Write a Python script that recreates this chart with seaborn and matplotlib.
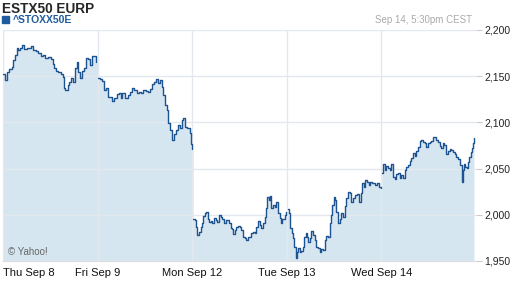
import numpy as np
import matplotlib.pyplot as plt
import pandas as pd
import seaborn as sns

# trading-day position (0 = Thu Sep 8 open, 5 = Wed Sep 14 close) and index level
thu_t = [0.000, 0.021, 0.045, 0.067, 0.092, 0.109, 0.127, 0.145, 0.162, 0.180, 0.201, 0.222,
         0.250, 0.278, 0.299, 0.320, 0.348, 0.373, 0.398, 0.426, 0.447, 0.478, 0.504, 0.525,
         0.539, 0.560, 0.584, 0.609, 0.630, 0.644, 0.658, 0.683, 0.700, 0.721, 0.742, 0.760,
         0.778, 0.795, 0.813, 0.834, 0.855, 0.876, 0.901, 0.919, 0.937, 0.961, 0.982]
thu_p = [2152.1, 2145.9, 2154.9, 2157.8, 2160.3, 2167.5, 2172.9, 2180.2, 2178.4, 2180.8, 2183.8, 2179.4,
         2180.8, 2180.2, 2182.7, 2178.4, 2177.6, 2174.8, 2172.2, 2172.9, 2170.0, 2171.1, 2168.6, 2162.9,
         2158.5, 2155.6, 2154.9, 2152.1, 2149.5, 2136.9, 2135.1, 2140.5, 2144.0, 2147.7, 2144.0, 2158.5,
         2165.7, 2154.9, 2147.7, 2155.6, 2158.5, 2170.0, 2168.6, 2162.1, 2172.2, 2172.2, 2165.7]

fri_t = [1.006, 1.024, 1.049, 1.070, 1.088, 1.106, 1.130, 1.154, 1.175, 1.201, 1.225, 1.246,
         1.260, 1.288, 1.317, 1.341, 1.359, 1.387, 1.412, 1.436, 1.457, 1.482, 1.507, 1.534,
         1.555, 1.577, 1.598, 1.619, 1.640, 1.661, 1.676, 1.693, 1.711, 1.729, 1.746, 1.763,
         1.788, 1.809, 1.834, 1.851, 1.872, 1.893, 1.908, 1.922, 1.950, 1.972, 1.985, 1.993]
fri_p = [2147.7, 2146.6, 2144.8, 2135.1, 2136.9, 2127.8, 2127.8, 2123.2, 2126.7, 2130.4, 2131.5, 2126.1,
         2131.5, 2126.7, 2129.7, 2133.2, 2137.6, 2135.1, 2131.5, 2133.2, 2131.5, 2135.1, 2134.0, 2133.2,
         2136.1, 2141.2, 2144.0, 2146.6, 2142.3, 2145.9, 2138.6, 2129.7, 2118.8, 2113.4, 2099.0, 2091.8,
         2080.9, 2087.1, 2091.8, 2097.2, 2093.6, 2102.6, 2105.1, 2095.3, 2093.6, 2088.2, 2076.3, 2071.2]

mon_t = [2.010, 2.027, 2.045, 2.056, 2.070, 2.091, 2.105, 2.119, 2.133, 2.147, 2.162, 2.178,
         2.196, 2.210, 2.231, 2.249, 2.267, 2.284, 2.302, 2.320, 2.337, 2.358, 2.379, 2.394,
         2.408, 2.421, 2.436, 2.450, 2.468, 2.485, 2.503, 2.521, 2.538, 2.555, 2.573, 2.590,
         2.608, 2.626, 2.643, 2.661, 2.679, 2.696, 2.714, 2.732, 2.749, 2.767, 2.780, 2.795,
         2.809, 2.823, 2.837, 2.854, 2.872, 2.890, 2.907, 2.925, 2.936, 2.954, 2.978, 2.996]
mon_p = [1995.1, 1994.4, 1987.1, 1978.1, 1981.7, 1987.1, 1990.8, 1998.7, 2001.6, 2003.3, 1995.1, 1992.5,
         1993.6, 1990.8, 1996.2, 1994.4, 1992.5, 1999.8, 1997.3, 1995.1, 1991.4, 1994.4, 1994.4, 1990.8,
         1985.4, 1984.3, 1979.2, 1983.5, 1986.5, 1987.9, 1986.5, 1983.5, 1976.3, 1974.6, 1972.7, 1975.6,
         1975.6, 1980.0, 1981.7, 1980.6, 1986.5, 1993.6, 1989.0, 1985.4, 1990.8, 1997.9, 2007.0, 2019.6,
         2016.0, 2020.3, 2007.0, 2010.6, 2008.8, 2014.2, 2001.6, 1996.2, 1990.8, 1995.1, 1999.8, 2003.3]

tue_t = [3.013, 3.023, 3.038, 3.052, 3.066, 3.080, 3.094, 3.108, 3.123, 3.136, 3.154, 3.171,
         3.186, 3.200, 3.213, 3.228, 3.242, 3.260, 3.277, 3.295, 3.313, 3.329, 3.347, 3.365,
         3.382, 3.400, 3.418, 3.435, 3.453, 3.471, 3.482, 3.495, 3.509, 3.524, 3.541, 3.559,
         3.577, 3.594, 3.611, 3.629, 3.646, 3.664, 3.682, 3.699, 3.717, 3.741, 3.762, 3.780,
         3.798, 3.812, 3.826, 3.847, 3.868, 3.883, 3.904, 3.928, 3.952, 3.974, 3.999]
tue_p = [2005.9, 2001.6, 1985.4, 1980.0, 1974.6, 1965.5, 1952.9, 1960.1, 1963.7, 1960.1, 1961.1, 1965.5,
         1976.3, 1980.6, 1976.3, 1970.9, 1974.6, 1982.8, 1978.1, 1972.7, 1965.5, 1963.7, 1960.1, 1962.7,
         1961.9, 1972.7, 1977.0, 1976.3, 1990.8, 1999.8, 2010.6, 2019.6, 2016.0, 2003.3, 1991.4, 1995.1,
         2001.6, 1997.3, 2009.5, 2017.8, 2025.0, 2023.3, 2014.2, 2017.8, 2021.4, 2022.5, 2014.2, 2023.3,
         2034.1, 2030.4, 2037.7, 2035.8, 2032.2, 2035.8, 2034.1, 2032.2, 2034.7, 2030.4, 2029.3]

wed_t = [4.005, 4.016, 4.034, 4.052, 4.069, 4.087, 4.105, 4.121, 4.139, 4.157, 4.174, 4.192,
         4.210, 4.231, 4.245, 4.263, 4.280, 4.298, 4.316, 4.333, 4.351, 4.369, 4.386, 4.403,
         4.421, 4.438, 4.456, 4.474, 4.491, 4.509, 4.527, 4.544, 4.562, 4.580, 4.597, 4.615,
         4.633, 4.650, 4.667, 4.685, 4.702, 4.720, 4.738, 4.755, 4.773, 4.791, 4.808, 4.826,
         4.836, 4.850, 4.861, 4.871, 4.886, 4.900, 4.914, 4.929, 4.943, 4.957, 4.971, 4.978]
wed_p = [2044.9, 2054.6, 2048.5, 2053.1, 2050.3, 2048.5, 2054.6, 2041.2, 2038.7, 2043.8, 2044.9, 2039.5,
         2043.1, 2040.1, 2048.5, 2052.1, 2053.9, 2058.2, 2061.1, 2066.6, 2064.0, 2069.0, 2073.7, 2079.9,
         2080.9, 2079.1, 2077.4, 2073.7, 2077.4, 2079.1, 2079.9, 2084.5, 2084.5, 2080.9, 2079.1, 2074.8,
         2072.0, 2077.4, 2075.5, 2065.5, 2069.0, 2071.2, 2070.1, 2068.3, 2065.5, 2062.9, 2060.4, 2058.2,
         2053.9, 2035.8, 2048.5, 2054.6, 2052.1, 2051.0, 2057.5, 2062.9, 2067.6, 2072.0, 2077.4, 2082.8]

day_labels = ["Thu Sep 8", "Fri Sep 9", "Mon Sep 12", "Tue Sep 13", "Wed Sep 14"]
y_ticks = [1950, 2000, 2050, 2100, 2150, 2200]

days = [(thu_t, thu_p), (fri_t, fri_p), (mon_t, mon_p), (tue_t, tue_p), (wed_t, wed_p)]
df = pd.concat([pd.DataFrame({"t": t, "price": p, "day": i}) for i, (t, p) in enumerate(days)],
               ignore_index=True)

line_col = "#1d5390"
fill_col = "#d6e6f1"
grid_col = "#e3e8ef"

sns.set_style("white")
plt.rcParams["font.family"] = ["Liberation Sans", "DejaVu Sans"]

fig = plt.figure(figsize=(5.12, 2.88), dpi=100)
ax = fig.add_axes([3 / 512, 27 / 288, 473 / 512, 231 / 288])

ax.fill_between(df["t"], df["price"], 1950, step="post", color=fill_col, lw=0, zorder=1)
sns.lineplot(data=df, x="t", y="price", units="day", estimator=None, color=line_col,
             lw=1.0, ax=ax, zorder=3, legend=False, drawstyle="steps-post")

ax.set_xlim(0, 5)
ax.set_ylim(1950, 2200)
ax.set_xticks(range(5))
ax.set_xticklabels(day_labels, fontsize=8, color="#111111")
ax.get_xticklabels()[0].set_horizontalalignment("left")
ax.set_yticks(y_ticks)
ax.set_yticklabels([f"{v:,}" for v in y_ticks], fontsize=7.5, color="#222222")
ax.yaxis.tick_right()
ax.tick_params(axis="x", length=3, color="#cccccc", pad=2)
ax.tick_params(axis="y", length=4, color="#cccccc", pad=2)
ax.grid(True, color=grid_col, lw=1, zorder=2)
ax.set_axisbelow(False)
for s in ["top", "right"]:
    ax.spines[s].set_visible(False)
ax.spines["left"].set_color("#dddddd")
ax.spines["bottom"].set_color("#dddddd")
ax.set_xlabel("")
ax.set_ylabel("")

fig.text(2 / 512, 1 - 9 / 288, "ESTX50 EURP", fontsize=9.8, fontweight="bold", va="center", ha="left")
fig.patches.append(plt.Rectangle((2 / 512, 1 - 23 / 288), 7 / 512, 7 / 288, transform=fig.transFigure,
                                 color="#1f5c9e", figure=fig))
fig.text(13 / 512, 1 - 20 / 288, "^STOXX50E", fontsize=7.5, fontweight="semibold", color="#1f5c9e",
         va="center", ha="left")
fig.text(472 / 512, 1 - 20 / 288, "Sep 14, 5:30pm CEST", fontsize=7, color="#aaaaaa",
         va="center", ha="right")
ax.text(0.01, 0.04, "© Yahoo!", transform=ax.transAxes, fontsize=7, color="#666666", va="center")

fig.savefig("out.png", dpi=100)
